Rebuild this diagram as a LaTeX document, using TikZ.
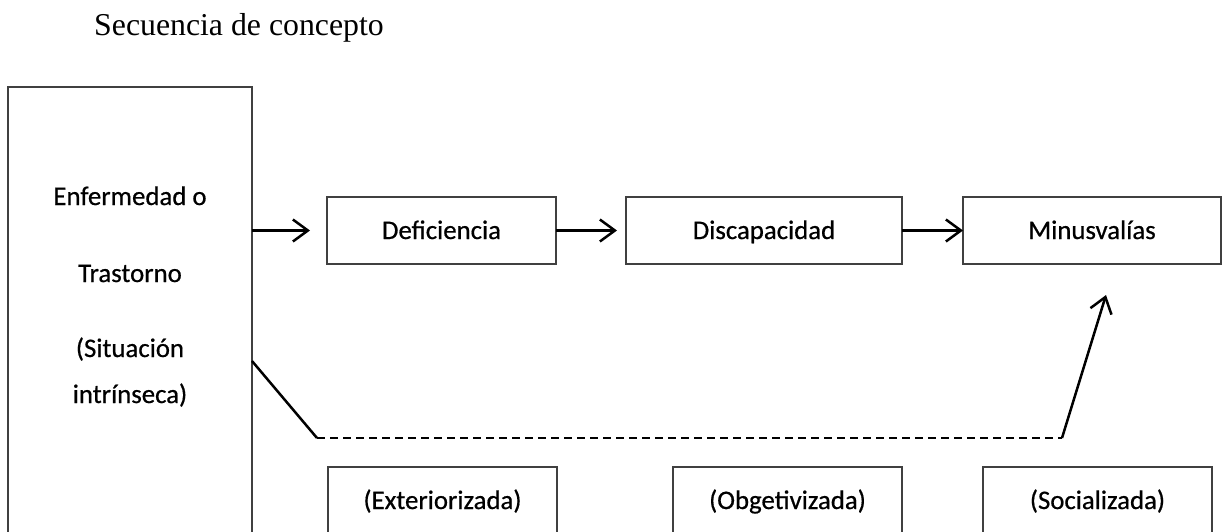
\documentclass[tikz,border=0pt]{standalone}
\usepackage{fontspec}
\setmainfont{Carlito}[FakeBold=0.6]
\newfontfamily\bodyfont{Carlito}[FakeBold=0.6]
\newfontfamily\titlefont{Liberation Serif}
\usetikzlibrary{arrows.meta}
\begin{document}
\begin{tikzpicture}[x=1pt,y=-1pt,
  box/.style={draw=black!75, line width=1.5pt, inner sep=0pt, outer sep=0pt, font=\bodyfont\fontsize{26.8}{30}\selectfont},
  lbl/.style={inner sep=0pt, font=\bodyfont\fontsize{26.8}{30}\selectfont},
  arr/.style={line width=2.5pt, -{Straight Barb[length=15pt,width=22pt]}},
  conn/.style={line width=2.5pt},
  dashconn/.style={line width=2.5pt, dash pattern=on 8pt off 5pt}
]
\useasboundingbox (0,0) rectangle (1223,531);
\clip (0,0) rectangle (1223,531);

\node[anchor=base west, inner sep=0pt, font=\titlefont\fontsize{31.8}{36}\selectfont] (title) at (94,35) {Secuencia de concepto};

% big box
\node[box, minimum width=244pt, minimum height=480pt, anchor=north west] (big) at (8,87) {};
\node[lbl, anchor=base] (t1) at (130,205) {Enfermedad o};
\node[lbl, anchor=base] (t2) at (130,282) {Trastorno};
\node[lbl, anchor=base] (t3) at (130,357) {(Situación};
\node[lbl, anchor=base] (t4) at (130,403) {intrínseca)};

% top boxes
\node[box, anchor=north, minimum width=229pt, text height=42pt, text depth=25pt] (def) at (441.5,197) {Deficiencia};
\node[box, anchor=north, minimum width=276pt, text height=42pt, text depth=25pt] (dis) at (764,197) {Discapacidad};
\node[box, anchor=north, minimum width=258pt, text height=42pt, text depth=25pt] (min) at (1092,197) {Minusvalías};

% bottom boxes
\node[box, anchor=north, minimum width=229pt, text height=42pt, text depth=55pt] (ext) at (442.5,467) {(Exteriorizada)};
\node[box, anchor=north, minimum width=229pt, text height=42pt, text depth=55pt] (obg) at (787.5,467) {(Obgetivizada)};
\node[box, anchor=north, minimum width=229pt, text height=42pt, text depth=55pt] (soc) at (1097.5,467) {(Socializada)};

% arrows
\draw[arr, shorten >=17pt] (big.east |- def.west) -- (def.west);
\draw[arr, shorten >=9pt] (def.east) -- (dis.west);
\draw[arr] (dis.east) -- (min.west);

% lower path
\coordinate (yref) at (0,361);
\coordinate (s) at (big.east |- yref);
\coordinate (p1) at (317,438);
\coordinate (p2) at (1062,438);
\coordinate (tip) at (1106,295);
\draw[conn] (s) -- (p1);
\draw[dashconn] (p1) -- (p2);
\draw[arr] (p2) -- (tip);
\end{tikzpicture}
\end{document}
